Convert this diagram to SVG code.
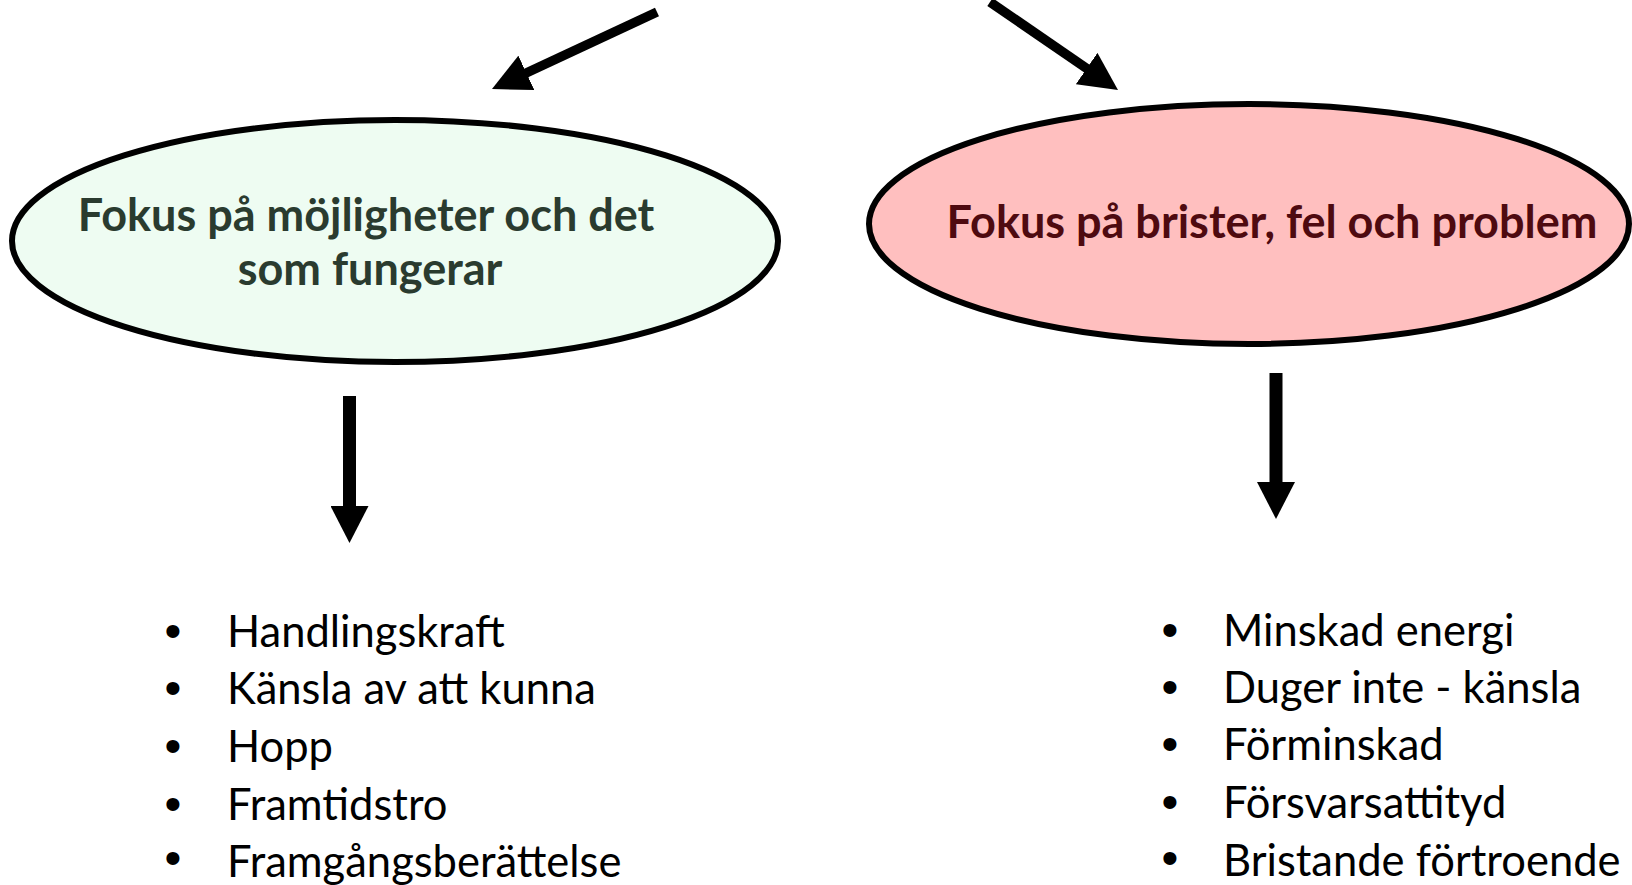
<svg xmlns="http://www.w3.org/2000/svg" width="1632" height="885" viewBox="0 0 1632 885">
<style>
.bg{fill:#ffffff}
.ell{stroke:#000;stroke-width:6}
.head{font-family:Lato,"Open Sans","Liberation Sans",sans-serif;font-weight:700;font-size:45px;text-anchor:middle}
.item{font-family:Lato,"Open Sans","Liberation Sans",sans-serif;font-size:43.5px;fill:#000}
.bul{font-family:"Liberation Sans",Arial,sans-serif;font-size:48px;fill:#000}
.conn{stroke:#000;fill:none}
</style>
<defs>
<marker id="ahD" markerUnits="userSpaceOnUse" markerWidth="38" markerHeight="38" refX="18" refY="19" orient="auto">
<path d="M0,0 L38,19 L0,38 z" fill="#000"/>
</marker>
<marker id="ahV" markerUnits="userSpaceOnUse" markerWidth="37" markerHeight="38" refX="14" refY="19" orient="auto">
<path d="M0,0 L37,19 L0,38 z" fill="#000"/>
</marker>
</defs>
<rect class="bg" x="0" y="0" width="1632" height="885"/>
<g id="connectors">
<line class="conn" x1="657" y1="12" x2="510.1" y2="80.5" stroke-width="9.5" marker-end="url(#ahD)"/>
<line class="conn" x1="990" y1="2" x2="1101.5" y2="78.7" stroke-width="9.5" marker-end="url(#ahD)"/>
<line class="conn" x1="349.5" y1="396" x2="349.5" y2="520" stroke-width="13" marker-end="url(#ahV)"/>
<line class="conn" x1="1276" y1="373" x2="1276" y2="496" stroke-width="13" marker-end="url(#ahV)"/>
</g>
<g id="node-positive">
<ellipse class="ell" cx="395" cy="241" rx="383" ry="121" fill="#EEFCF2"/>
<text class="head" fill="#2A3B2F"><tspan x="366" y="231">Fokus på möjligheter och det</tspan><tspan x="370" y="285">som fungerar</tspan></text>
</g>
<g id="node-negative">
<ellipse class="ell" cx="1249" cy="224" rx="380" ry="120" fill="#FFBFBF"/>
<text class="head" fill="#4E0A10" x="1272" y="238">Fokus på brister, fel och problem</text>
</g>
<g id="list-positive">
<text class="bul" x="164.5" y="647">•</text><text class="item" x="227" y="647">Handlingskraft</text>
<text class="bul" x="164.5" y="704">•</text><text class="item" x="227" y="704">Känsla av att kunna</text>
<text class="bul" x="164.5" y="762">•</text><text class="item" x="227" y="762">Hopp</text>
<text class="bul" x="164.5" y="820">•</text><text class="item" x="227" y="820">Framtidstro</text>
<text class="bul" x="164.5" y="874">•</text><text class="item" x="227" y="877">Framgångsberättelse</text>
</g>
<g id="list-negative">
<text class="bul" x="1161.5" y="646">•</text><text class="item" x="1223" y="646">Minskad energi</text>
<text class="bul" x="1161.5" y="703">•</text><text class="item" x="1223" y="703">Duger inte - känsla</text>
<text class="bul" x="1161.5" y="760">•</text><text class="item" x="1223" y="760">Förminskad</text>
<text class="bul" x="1161.5" y="818">•</text><text class="item" x="1223" y="818">Försvarsattityd</text>
<text class="bul" x="1161.5" y="874">•</text><text class="item" x="1223" y="876">Bristande förtroende</text>
</g>
</svg>
